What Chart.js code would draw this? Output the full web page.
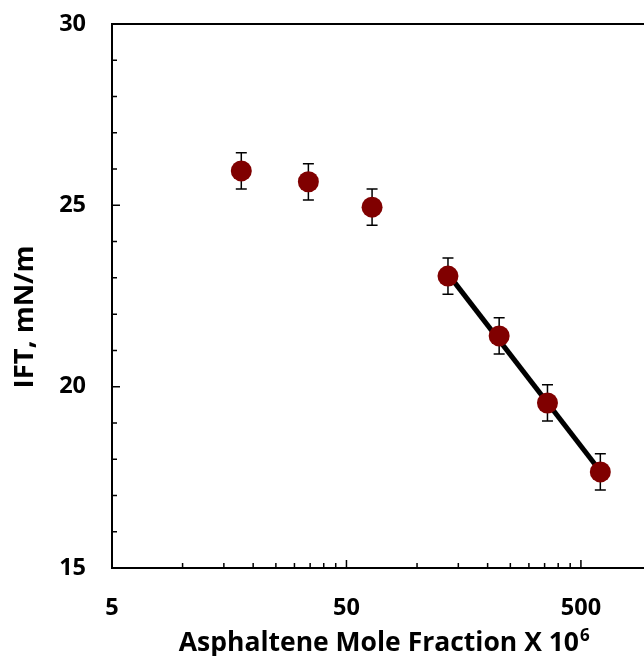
<!DOCTYPE html>
<html>
<head>
<meta charset="utf-8">
<script src="https://cdn.jsdelivr.net/npm/chart.js@4.4.1/dist/chart.umd.min.js"></script>
<style>
  html, body { margin: 0; padding: 0; background: #fff; overflow: hidden; }
  canvas { display: block; }
</style>
</head>
<body>
<canvas id="iftChart" width="662" height="656"></canvas>
<script>
// measured points (mole fraction x 10^6 vs IFT)
const molFrac = [17.8, 34.4, 64.3, 135.5, 224, 360, 605];
const ift = [25.95, 25.65, 24.95, 23.05, 21.4, 19.55, 17.65];
const iftErr = [0.5, 0.5, 0.5, 0.5, 0.5, 0.5, 0.5];
// trend line over the last four points
const trendX = [135.5, 605];
const trendY = [23.11, 17.67];
// ticks
const xTickLabels = [5, 50, 500];
const xMinorTicks = [10, 15, 20, 25, 30, 35, 40, 45, 100, 150, 200, 250, 300, 350, 400, 450];
const yTickLabels = [15, 20, 25, 30];
const yMinorTicks = [16, 17, 18, 19, 21, 22, 23, 24, 26, 27, 28, 29];
// axis titles
const xTitle = 'Asphaltene Mole Fraction X 10';
const xTitleSup = '6';
const yTitle = 'IFT, mN/m';

const tickFont = { family: 'Open Sans', weight: 'bold', size: 23.5 };

// frame, inside ticks, error bars and axis titles
const framePlugin = {
    id: 'frame',
    beforeDatasetsDraw(chart) {
        const { ctx, scales: { x, y } } = chart;
        ctx.save();
        ctx.strokeStyle = '#000';
        ctx.lineWidth = 1.5;
        ctx.beginPath();
        molFrac.forEach((v, i) => {
            const px = x.getPixelForValue(v);
            const top = y.getPixelForValue(ift[i] + iftErr[i]);
            const bot = y.getPixelForValue(ift[i] - iftErr[i]);
            ctx.moveTo(px, top); ctx.lineTo(px, bot);
            ctx.moveTo(px - 5.5, top); ctx.lineTo(px + 5.5, top);
            ctx.moveTo(px - 5.5, bot); ctx.lineTo(px + 5.5, bot);
        });
        ctx.stroke();
        ctx.restore();
    },
    afterDraw(chart) {
        const { ctx, chartArea: a, scales: { x, y } } = chart;
        ctx.save();
        ctx.strokeStyle = '#000';
        ctx.lineWidth = 2;
        ctx.beginPath();
        ctx.moveTo(a.right, a.top);
        ctx.lineTo(a.left, a.top);
        ctx.lineTo(a.left, a.bottom);
        ctx.lineTo(a.right, a.bottom);
        ctx.stroke();

        ctx.lineWidth = 1.5;
        ctx.beginPath();
        xTickLabels.forEach(v => {
            const px = x.getPixelForValue(v);
            ctx.moveTo(px, a.bottom); ctx.lineTo(px, a.bottom - 8);
        });
        xMinorTicks.forEach(v => {
            const px = x.getPixelForValue(v);
            ctx.moveTo(px, a.bottom); ctx.lineTo(px, a.bottom - 5);
        });
        yTickLabels.forEach(v => {
            const py = y.getPixelForValue(v);
            ctx.moveTo(a.left, py); ctx.lineTo(a.left + 8, py);
        });
        yMinorTicks.forEach(v => {
            const py = y.getPixelForValue(v);
            ctx.moveTo(a.left, py); ctx.lineTo(a.left + 5, py);
        });
        ctx.stroke();

        // x title with superscript
        ctx.fillStyle = '#000';
        ctx.textBaseline = 'alphabetic';
        ctx.textAlign = 'left';
        const mainFont = 'bold 26.5px "Open Sans"';
        const supFont = 'bold 17px "Open Sans"';
        ctx.font = mainFont;
        const w1 = ctx.measureText(xTitle).width;
        ctx.font = supFont;
        const w2 = ctx.measureText(xTitleSup).width;
        const cx = (a.left + a.right) / 2 + 2;
        const baseY = a.bottom + 83;
        const startX = cx - (w1 + w2) / 2;
        ctx.font = mainFont;
        ctx.fillText(xTitle, startX, baseY);
        ctx.font = supFont;
        ctx.fillText(xTitleSup, startX + w1 + 1, baseY - 10);

        // y title, rotated
        ctx.save();
        ctx.translate(33, (a.top + a.bottom) / 2 + 21);
        ctx.rotate(-Math.PI / 2);
        ctx.font = 'bold 27.5px "Open Sans"';
        ctx.textAlign = 'center';
        ctx.fillText(yTitle, 0, 0);
        ctx.restore();

        ctx.restore();
    }
};

const ctx = document.getElementById('iftChart').getContext('2d');
const iftChart = new Chart(ctx, {
    type: 'scatter',
    data: {
        datasets: [
            {
                label: 'IFT',
                data: molFrac.map((v, i) => ({ x: v, y: ift[i] })),
                backgroundColor: '#800000',
                borderColor: '#800000',
                pointRadius: 10.5,
                pointHoverRadius: 10.5,
                borderWidth: 0
            },
            {
                label: 'Trend',
                data: trendX.map((v, i) => ({ x: v, y: trendY[i] })),
                showLine: true,
                borderColor: '#000',
                borderWidth: 5,
                pointRadius: 0
            }
        ]
    },
    options: {
        responsive: false,
        animation: false,
        layout: { padding: { top: 24, right: 4, left: 0, bottom: 0 } },
        plugins: {
            legend: { display: false },
            tooltip: { enabled: false }
        },
        scales: {
            x: {
                type: 'logarithmic',
                min: 5,
                max: 1000,
                grid: { display: false, drawTicks: false },
                border: { display: false },
                afterBuildTicks: s => { s.ticks = xTickLabels.map(v => ({ value: v })); },
                afterFit: s => { s.height = 88; s.paddingLeft = 0; s.paddingRight = 0; },
                ticks: {
                    color: '#000',
                    font: tickFont,
                    padding: 26,
                    autoSkip: false,
                    maxRotation: 0,
                    callback: v => String(v)
                }
            },
            y: {
                min: 15,
                max: 30,
                grid: { display: false, drawTicks: false },
                border: { display: false },
                afterBuildTicks: s => { s.ticks = yTickLabels.map(v => ({ value: v })); },
                afterFit: s => { s.width = 112; s.paddingTop = 0; s.paddingBottom = 0; },
                ticks: {
                    color: '#000',
                    font: tickFont,
                    padding: 26
                }
            }
        }
    },
    plugins: [framePlugin]
});
</script>
</body>
</html>
